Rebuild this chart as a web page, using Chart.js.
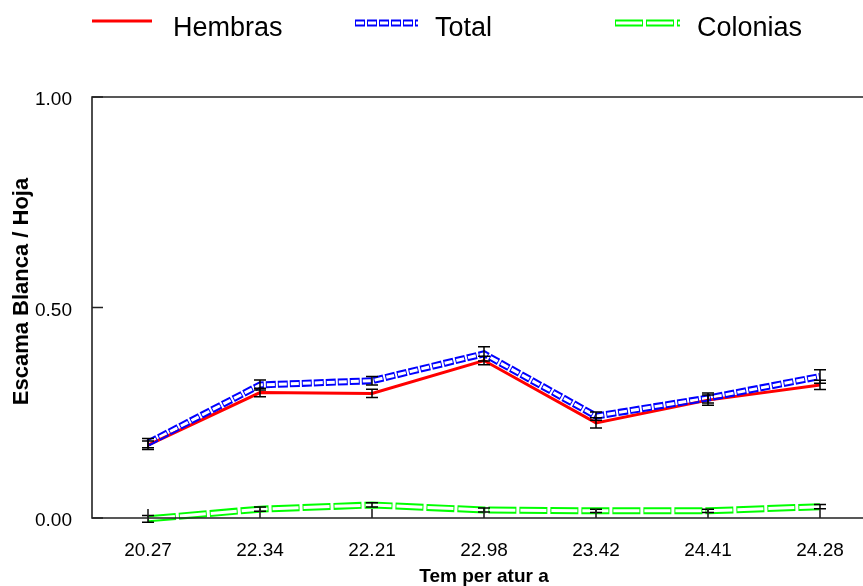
<!DOCTYPE html>
<html>
<head>
<meta charset="utf-8">
<script src="https://cdn.jsdelivr.net/npm/chart.js@4/dist/chart.umd.min.js"></script>
<style>
html,body{margin:0;padding:0;background:#fff;overflow:hidden;width:863px;height:586px;}
canvas{display:block;}
</style>
</head>
<body>
<canvas id="c" width="876" height="586"></canvas>
<script>
const categories = ['20.27','22.34','22.21','22.98','23.42','24.41','24.28'];
const hembras     = [0.173, 0.298, 0.296, 0.374, 0.226, 0.280, 0.316];
const hembrasErr  = [0.010, 0.010, 0.010, 0.010, 0.012, 0.012, 0.011];
const total       = [0.178, 0.316, 0.326, 0.390, 0.242, 0.285, 0.336];
const totalErr    = [0.011, 0.012, 0.010, 0.017, 0.010, 0.012, 0.016];
const colonias    = [-0.002, 0.021, 0.031, 0.019, 0.017, 0.017, 0.027];
const coloniasErr = [0.008, 0.005, 0.005, 0.005, 0.004, 0.004, 0.005];
const yTicks = [0, 0.5, 1];
const legendNames = ['Hembras', 'Total', 'Colonias'];
const yTitle = 'Escama Blanca / Hoja';

function strokePath(ctx, pts) {
  ctx.beginPath();
  pts.forEach((p, i) => i ? ctx.lineTo(p.x, p.y) : ctx.moveTo(p.x, p.y));
  ctx.stroke();
}
function hollowLine(ctx, pts, color, outer, inner, dash, w, h) {
  const off = document.createElement('canvas');
  off.width = w; off.height = h;
  const o = off.getContext('2d');
  o.lineJoin = 'miter'; o.lineCap = 'butt';
  o.strokeStyle = color; o.lineWidth = outer;
  o.setLineDash(dash);
  strokePath(o, pts);
  o.globalCompositeOperation = 'destination-out';
  o.setLineDash([dash[0] - 2, dash[1] + 2]);
  o.lineDashOffset = -1;
  o.lineWidth = inner;
  strokePath(o, pts);
  ctx.drawImage(off, 0, 0);
}

const styledLines = {
  id: 'styledLines',
  beforeDatasetDraw(chart, args) {
    const ds = chart.data.datasets[args.index];
    if (!ds.hollow) return;
    const pts = args.meta.data.map(e => ({x: e.x, y: e.y}));
    hollowLine(chart.ctx, pts, ds.borderColor, 7, 3, ds.hollowDash, chart.width, chart.height);
    return false;
  },
  afterDatasetsDraw(chart) {
    const ctx = chart.ctx;
    const y = chart.scales.y;
    ctx.save();
    ctx.strokeStyle = '#000';
    ctx.lineWidth = 1.5;
    chart.data.datasets.forEach((ds, di) => {
      const meta = chart.getDatasetMeta(di);
      ds.data.forEach((v, i) => {
        const x = meta.data[i].x;
        const y1 = y.getPixelForValue(v + ds.err[i]);
        const y2 = y.getPixelForValue(v - ds.err[i]);
        ctx.beginPath();
        ctx.moveTo(x, y1); ctx.lineTo(x, y2);
        ctx.moveTo(x - 6, y1); ctx.lineTo(x + 6, y1);
        ctx.moveTo(x - 6, y2); ctx.lineTo(x + 6, y2);
        ctx.stroke();
      });
    });
    ctx.restore();
  },
  afterDraw(chart) {
    const ctx = chart.ctx;
    const a = chart.chartArea;
    const xs = chart.scales.x, ys = chart.scales.y;
    ctx.save();
    ctx.strokeStyle = '#222';
    ctx.lineWidth = 1.6;
    ctx.beginPath();
    ctx.moveTo(a.right, a.top); ctx.lineTo(a.left, a.top); ctx.lineTo(a.left, a.bottom); ctx.lineTo(a.right, a.bottom);
    ctx.stroke();
    ctx.beginPath();
    yTicks.forEach(v => { const py = ys.getPixelForValue(v); ctx.moveTo(a.left, py); ctx.lineTo(a.left + 11, py); });
    categories.forEach((c, i) => { const px = xs.getPixelForTick(i); ctx.moveTo(px, a.bottom); ctx.lineTo(px, a.bottom - 9); });
    ctx.stroke();
    // y axis title
    ctx.save();
    ctx.translate(22, (a.top + a.bottom) / 2 - 16);
    ctx.rotate(-Math.PI / 2);
    ctx.fillStyle = '#000';
    ctx.font = 'bold 22px "Liberation Sans", Arial, sans-serif';
    ctx.textAlign = 'center';
    ctx.textBaseline = 'middle';
    ctx.fillText(yTitle, 0, 0);
    ctx.restore();
    // legend
    const ds = chart.data.datasets;
    const sym = [[92, 152, 21], [355, 418, 23], [615, 680, 23]];
    const tx = [173, 435, 697];
    ds.forEach((d, i) => {
      const [x1, x2, yy] = sym[i];
      if (d.hollow) {
        hollowLine(ctx, [{x: x1, y: yy}, {x: x2, y: yy}], d.borderColor, 7, 3, d.hollowDash, chart.width, chart.height);
      } else {
        ctx.strokeStyle = d.borderColor; ctx.lineWidth = 3; ctx.setLineDash([]);
        ctx.beginPath(); ctx.moveTo(x1, yy); ctx.lineTo(x2, yy); ctx.stroke();
      }
      ctx.fillStyle = '#000';
      ctx.font = '27px "Liberation Sans", Arial, sans-serif';
      ctx.textBaseline = 'alphabetic';
      ctx.textAlign = 'left';
      ctx.fillText(legendNames[i], tx[i], 36);
    });
    ctx.restore();
  }
};

Chart.defaults.font.family = '"Liberation Sans", Arial, sans-serif';
Chart.defaults.color = '#000';

new Chart(document.getElementById('c'), {
  type: 'line',
  data: {
    labels: categories,
    datasets: [
      {label: legendNames[0], data: hembras, err: hembrasErr, borderColor: '#ff0000', borderWidth: 3, pointRadius: 0, tension: 0, order: 3, fill: false},
      {label: legendNames[1], data: total, err: totalErr, borderColor: '#0000ff', borderWidth: 7, pointRadius: 0, tension: 0, order: 1, fill: false, hollow: true, hollowDash: [10, 2]},
      {label: legendNames[2], data: colonias, err: coloniasErr, borderColor: '#00ff00', borderWidth: 7, pointRadius: 0, tension: 0, order: 2, fill: false, hollow: true, hollowDash: [28, 3]}
    ]
  },
  options: {
    responsive: false,
    animation: false,
    devicePixelRatio: 1,
    layout: {padding: {top: 97, left: 0, right: 0, bottom: 0}},
    plugins: {legend: {display: false}, tooltip: {enabled: false}},
    scales: {
      x: {
        type: 'category',
        offset: true,
        grid: {display: false, drawTicks: false},
        border: {display: false},
        ticks: {font: {size: 19}, padding: 21, maxRotation: 0, autoSkip: false},
        title: {display: true, text: 'Tem per atur a', font: {size: 19, weight: 'bold', lineHeight: 1}, padding: {top: 0, bottom: 0}},
        afterFit(s) { s.height = 68; }
      },
      y: {
        min: 0, max: 1,
        grid: {display: false, drawTicks: false},
        border: {display: false},
        afterBuildTicks(s) { s.ticks = yTicks.map(v => ({value: v})); },
        ticks: {font: {size: 19}, padding: 20, labelOffset: 3, callback: v => Number(v).toFixed(2)},
        title: {display: false},
        afterFit(s) { s.width = 92; }
      }
    }
  },
  plugins: [styledLines]
});
</script>
</body>
</html>
